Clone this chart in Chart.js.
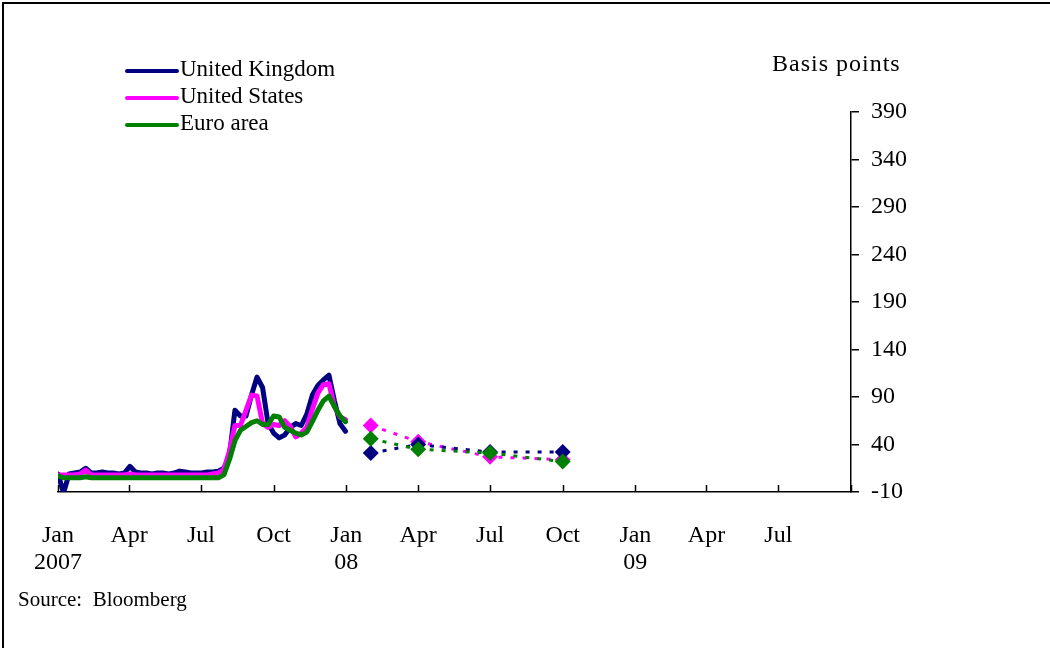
<!DOCTYPE html>
<html>
<head>
<meta charset="utf-8">
<script src="https://cdn.jsdelivr.net/npm/chart.js@4"></script>
<style>
  body { margin: 0; background: #fff; font-family: "Liberation Serif", serif; overflow: hidden; }
  #wrap { position: absolute; left: 0; top: 0; width: 1050px; height: 648px; }
  #frame { position: absolute; left: 2px; top: 2px; width: 1040px; height: 646px;
           border-top: 2px solid #000; border-left: 2px solid #000; }
  #frame2 { position: absolute; left: 1042px; top: 2px; width: 8px; border-top: 2px solid #000; }
  .txt { position: absolute; color: #000; white-space: nowrap; }
  .key { position: absolute; height: 4px; width: 54px; left: 125px; border-radius: 2px; }
</style>
</head>
<body>
<div id="frame"></div>
<div id="frame2"></div>
<div id="wrap"><canvas id="chart"></canvas></div>

<div class="key" style="top:69px;background:#000080"></div>
<div class="key" style="top:96px;background:#ff00ff"></div>
<div class="key" style="top:123px;background:#008000"></div>
<div class="txt" style="left:180px;top:55px;font-size:23px;line-height:27px">United Kingdom</div>
<div class="txt" style="left:180px;top:82px;font-size:23px;line-height:27px">United States</div>
<div class="txt" style="left:180px;top:109px;font-size:23px;line-height:27px">Euro area</div>
<div class="txt" style="left:772px;top:51px;font-size:24px;line-height:24px;letter-spacing:1px">Basis points</div>
<div class="txt" style="left:18px;top:589px;font-size:21px;line-height:21px">Source:&nbsp; Bloomberg</div>

<script>
// weekly observations, 2007
const spotDates = [
  '2007-01-01','2007-01-08','2007-01-15','2007-01-22','2007-01-29',
  '2007-02-05','2007-02-12','2007-02-19','2007-02-26',
  '2007-03-05','2007-03-12','2007-03-19','2007-03-26',
  '2007-04-02','2007-04-09','2007-04-16','2007-04-23','2007-04-30',
  '2007-05-07','2007-05-14','2007-05-21','2007-05-28',
  '2007-06-04','2007-06-11','2007-06-18','2007-06-25',
  '2007-07-02','2007-07-09','2007-07-16','2007-07-23','2007-07-30',
  '2007-08-06','2007-08-13','2007-08-20','2007-08-27',
  '2007-09-03','2007-09-10','2007-09-17','2007-09-24',
  '2007-10-01','2007-10-08','2007-10-15','2007-10-22','2007-10-29',
  '2007-11-05','2007-11-12','2007-11-19','2007-11-26',
  '2007-12-03','2007-12-10','2007-12-17','2007-12-24','2007-12-31'
];
const ukSpot = [9,-11,9,10,11,15,10,10,11,10,10,9,10,17,11,10,10,9,10,10,9,10,12,11,10,10,10,11,11,12,
  15,28,76,70,70,92,111,100,62,52,47,50,58,62,60,72,92,102,108,113,86,62,54];
const usSpot = [8,8,8,8,9,13,8,8,8,8,8,8,8,9,8,8,8,8,8,8,8,8,8,8,8,8,8,8,9,10,
  14,33,60,60,76,92,91,62,58,61,60,65,59,48,52,58,77,94,103,104,80,69,66];
const euroSpot = [7,5,5,5,5,6,5,5,5,5,5,5,5,5,5,5,5,5,5,5,5,5,5,5,5,5,5,5,5,5,
  8,24,44,55,59,63,65,61,61,70,69,58,55,52,50,53,64,76,86,91,80,70,64];

// forward rates
const fwdDates = ['2008-02-01','2008-04-01','2008-07-01','2008-10-01'];
const ukFwd = [31,40,32,32];
const usFwd = [60,43,27,24];
const euroFwd = [46,35,31,22];

const tickDates = ['2007-01-01','2007-04-01','2007-07-01','2007-10-01','2008-01-01','2008-04-01',
  '2008-07-01','2008-10-01','2009-01-01','2009-04-01','2009-07-01','2009-10-01'];
const tickLabels = [['Jan','2007'],'Apr','Jul','Oct',['Jan','08'],'Apr','Jul','Oct',['Jan','09'],'Apr','Jul',''];

const dayOf = s => {
  const [y, m, d] = s.split('-').map(Number);
  return (Date.UTC(y, m - 1, d) - Date.UTC(2007, 0, 1)) / 86400000;
};
const pts = (dates, vals) => dates.map((d, i) => ({ x: dayOf(d), y: vals[i] }));
const tickDays = tickDates.map(dayOf);

const NAVY = '#000080', PINK = '#ff00ff', GREEN = '#008000';

const spot = (label, color, vals, order) => ({
  label, data: pts(spotDates, vals), borderColor: color, borderWidth: 5,
  borderJoinStyle: 'round', borderCapStyle: 'round',
  pointRadius: 0, tension: 0, order
});
const fwd = (label, color, vals, order) => ({
  label, data: pts(fwdDates, vals), borderColor: color, borderWidth: 3, borderDash: [4, 8],
  pointStyle: 'rectRot', pointRadius: 8, pointBackgroundColor: color, pointBorderWidth: 0,
  tension: 0, order
});

// x tick marks point up into the plot
const upTicks = {
  id: 'upTicks',
  afterDraw(chart) {
    const { ctx, scales: { x, y } } = chart;
    ctx.save();
    ctx.strokeStyle = '#000';
    ctx.lineWidth = 1.5;
    tickDays.forEach(d => {
      const px = Math.round(x.getPixelForValue(d)) + 0.5;
      ctx.beginPath();
      ctx.moveTo(px, y.bottom);
      ctx.lineTo(px, y.bottom - 7);
      ctx.stroke();
    });
    ctx.restore();
  }
};

Chart.defaults.font.family = '"Liberation Serif", serif';
Chart.defaults.color = '#000';

new Chart(document.getElementById('chart'), {
  type: 'line',
  data: {
    datasets: [
      spot('United Kingdom', NAVY, ukSpot, 6),
      spot('United States', PINK, usSpot, 5),
      spot('Euro area', GREEN, euroSpot, 4),
      fwd('United Kingdom forward', NAVY, ukFwd, 2),
      fwd('United States forward', PINK, usFwd, 3),
      fwd('Euro area forward', GREEN, euroFwd, 1)
    ]
  },
  options: {
    responsive: true,
    maintainAspectRatio: false,
    animation: false,
    layout: { padding: { left: 58, top: 112, right: 99, bottom: 56 } },
    plugins: { legend: { display: false }, tooltip: { enabled: false } },
    scales: {
      x: {
        type: 'linear',
        min: 0,
        max: 1004,
        afterBuildTicks: s => { s.ticks = tickDays.map(v => ({ value: v })); },
        afterFit: s => { s.height = 100; },
        grid: { display: false },
        border: { display: true, color: '#000', width: 1.5 },
        ticks: {
          autoSkip: false, maxRotation: 0, padding: 23,
          font: { size: 24, lineHeight: 1.1 },
          callback: (v, i) => tickLabels[i]
        }
      },
      y: {
        position: 'right',
        min: -10,
        max: 390,
        afterFit: s => { s.width = 100; },
        grid: { display: true, drawOnChartArea: false, drawTicks: true, tickLength: 8, color: '#000', lineWidth: 1.5 },
        border: { display: true, color: '#000', width: 1.5 },
        ticks: { stepSize: 50, padding: 12, font: { size: 24 } }
      }
    }
  },
  plugins: [upTicks]
});
</script>
</body>
</html>
